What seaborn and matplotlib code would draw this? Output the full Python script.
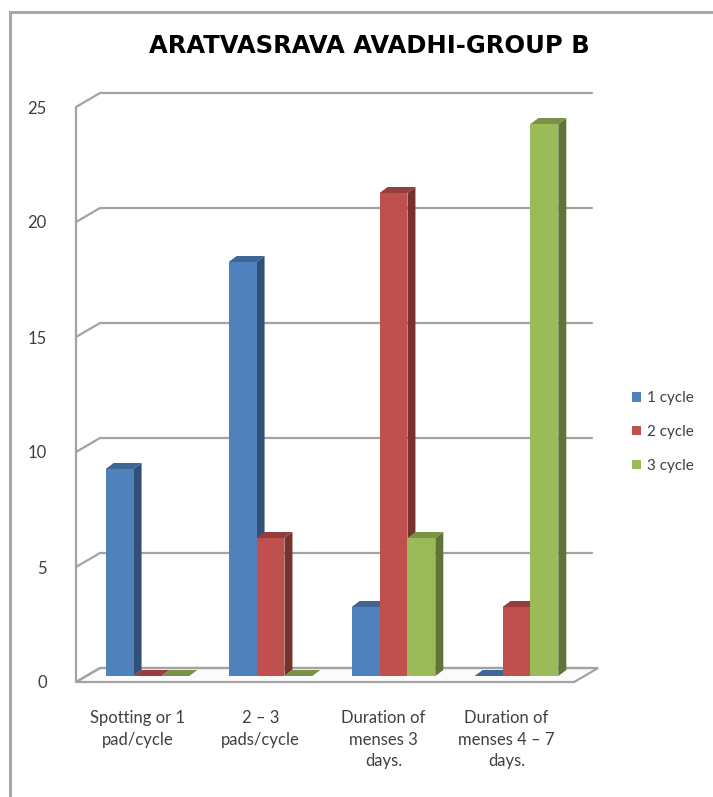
import numpy as np
import pandas as pd
import matplotlib
matplotlib.use("Agg")
import matplotlib.pyplot as plt
from matplotlib.patches import Polygon, Rectangle
import seaborn as sns

# ---- data ----
categories = [
    "Spotting or 1\npad/cycle",
    "2 \u2013 3\npads/cycle",
    "Duration of\nmenses 3\ndays.",
    "Duration of\nmenses 4 \u2013 7\ndays.",
]
series = ["1 cycle", "2 cycle", "3 cycle"]
cycle1 = [9, 18, 3, 0]
cycle2 = [0, 6, 21, 3]
cycle3 = [0, 0, 6, 24]
y_ticks = [0, 5, 10, 15, 20, 25]

colors = ["#4F81BD", "#C0504D", "#9BBB59"]

df = pd.DataFrame({
    "category": categories * 3,
    "series": [s for s in series for _ in categories],
    "count": cycle1 + cycle2 + cycle3,
})

sns.set_theme(style="white")
plt.rcParams["font.family"] = ["Lato", "DejaVu Sans"]

W, H = 713, 797
fig = plt.figure(figsize=(W / 100, H / 100), dpi=100)
fig.patch.set_facecolor("white")


def rect(l, t, r, b):
    return [l / W, 1 - b / H, (r - l) / W, (b - t) / H]


# outer chart-area border
fig.patches.append(Rectangle((10 / W, -0.05), 1.1, 1 - 12 / H + 0.05,
                             transform=fig.transFigure, fill=False,
                             edgecolor="#a8a8a8", lw=2.2, zorder=0))

# front plane of the 3-D box: walls, floor, ticks
ax = fig.add_axes(rect(76, 107, 568, 682))
ax.set_xlim(-0.5, 3.5)
ax.set_ylim(0, 25)
ax.patch.set_alpha(0)
for sp in ax.spines.values():
    sp.set_visible(False)

px_x = 492 / 4.0   # pixels per category
px_y = 575 / 25.0  # pixels per unit
ddx = 24 / px_x    # depth of the box
ddy = 14 / px_y

grid_kw = dict(color="#a3a3a3", lw=1.6, solid_capstyle="round", clip_on=False)
for v in y_ticks:
    ax.plot([-0.5, -0.5 + ddx, 3.5 + ddx], [v, v + ddy, v + ddy], **grid_kw)
ax.plot([-0.5, -0.5], [0, 25], **grid_kw)
# floor
floor = Polygon([(-0.5, 0), (3.55, 0), (3.55 + ddx, ddy), (-0.5 + ddx, ddy)],
                closed=True, facecolor="#fbfbfb", edgecolor="#a3a3a3",
                lw=1.6, clip_on=False)
ax.add_patch(floor)

ax.set_yticks(y_ticks)
ax.set_yticklabels([str(v) for v in y_ticks])
ax.set_xticks(range(len(categories)))
ax.set_xticklabels(categories, linespacing=1.45)
ax.tick_params(axis="y", length=0, pad=21, labelsize=12, labelcolor="#404040")
ax.tick_params(axis="x", length=0, pad=20, labelsize=12, labelcolor="#404040")
ax.set_xlabel("")
ax.set_ylabel("")

# bars, set back by half the box depth
ax_b = fig.add_axes(rect(86, 101, 578, 676))
sns.barplot(data=df, x="category", y="count", hue="series", palette=colors,
            width=0.68, saturation=1, ax=ax_b, edgecolor="none", linewidth=0)
ax_b.set_xlim(-0.5, 3.5)
ax_b.set_ylim(0, 25)
ax_b.patch.set_alpha(0)
ax_b.axis("off")

bdx = 8 / px_x
bdy = 6 / px_y


def shade(c, f):
    r, g, b = matplotlib.colors.to_rgb(c)
    return (r * f, g * f, b * f)


for cont, col in zip(ax_b.containers, colors):
    for bar in cont:
        x, w, h = bar.get_x(), bar.get_width(), bar.get_height()
        side = Polygon([(x + w, 0), (x + w + bdx, bdy), (x + w + bdx, h + bdy), (x + w, h)],
                       closed=True, facecolor=shade(col, 0.62), edgecolor="none",
                       clip_on=False, zorder=3)
        top = Polygon([(x, h), (x + w, h), (x + w + bdx, h + bdy), (x + bdx, h + bdy)],
                      closed=True, facecolor=shade(col, 0.78), edgecolor="none",
                      clip_on=False, zorder=3)
        ax_b.add_patch(side)
        ax_b.add_patch(top)
        bar.set_zorder(4)

leg = ax_b.get_legend()
if leg is not None:
    leg.remove()
handles = [Rectangle((0, 0), 1, 1, facecolor=c, edgecolor="none") for c in colors]
fig.legend(handles, series, loc="center left",
           bbox_to_anchor=(618 / W, 1 - 432 / H), frameon=False,
           fontsize=11, labelcolor="#404040", handlelength=0.6,
           handleheight=0.6, handletextpad=0.4, labelspacing=1.3)

fig.text(369 / W, 1 - 46 / H, "ARATVASRAVA AVADHI-GROUP B", ha="center",
         va="center", fontsize=17.5, fontweight="bold", color="black",
         family="DejaVu Sans")

fig.savefig("out.png", dpi=100, facecolor="white")
